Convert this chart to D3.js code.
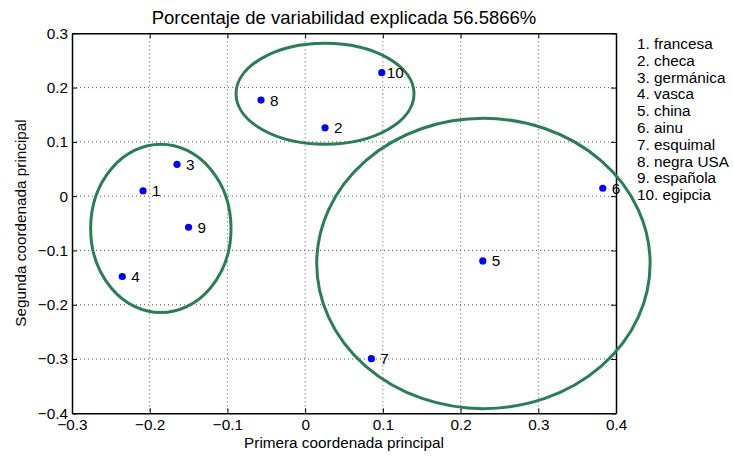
<!DOCTYPE html>
<html><head><meta charset="utf-8">
<script src="https://cdn.jsdelivr.net/npm/d3@7"></script>
<style>
body{margin:0;background:#fff;}
text{font-family:"Liberation Sans",Arial,Helvetica,sans-serif;fill:#000;}
</style></head>
<body>
<svg id="chart" width="733" height="456"></svg>
<script>
const labels = ["1","2","3","4","5","6","7","8","9","10"];
const xValues = [-0.2086, 0.0256, -0.1649, -0.2353, 0.2286, 0.3830, 0.0852, -0.0568, -0.1500, 0.0986];
const yValues = [0.0100, 0.1260, 0.0587, -0.1480, -0.1193, 0.0146, -0.2993, 0.1770, -0.0573, 0.2275];
const names = ["francesa","checa","germánica","vasca","china","ainu","esquimal","negra USA","española","egipcia"];
const ellCx = [-0.1857, 0.0256, 0.2294];
const ellCy = [-0.0595, 0.1886, -0.1240];
const ellRx = [0.0903, 0.1145, 0.2145];
const ellRy = [0.1550, 0.0930, 0.2674];
const xTicks = [-0.3,-0.2,-0.1,0,0.1,0.2,0.3,0.4];
const yTicks = [-0.4,-0.3,-0.2,-0.1,0,0.1,0.2,0.3];
const title = "Porcentaje de variabilidad explicada 56.5866%";
const xLabel = "Primera coordenada principal";
const yLabel = "Segunda coordenada principal";

const svg = d3.select("#chart");
const L=72, R=616, T=33.3, B=413.3;
const FS = 15.3;
const x = d3.scaleLinear().domain([-0.3,0.4]).range([L,R]);
const y = d3.scaleLinear().domain([-0.4,0.3]).range([B,T]);
const fmt = d => d===0 ? "0" : d3.format(".1f")(d).replace("-","\u2212");

// grid
const g = svg.append("g");
g.selectAll(".gx").data(xTicks.slice(1,-1)).join("line")
 .attr("x1",d=>x(d)).attr("x2",d=>x(d)).attr("y1",T).attr("y2",B)
 .attr("stroke","#555").attr("stroke-width",1).attr("stroke-dasharray","1,3");
g.selectAll(".gy").data(yTicks.slice(1,-1)).join("line")
 .attr("y1",d=>y(d)).attr("y2",d=>y(d)).attr("x1",L).attr("x2",R)
 .attr("stroke","#555").attr("stroke-width",1).attr("stroke-dasharray","1,3");

// axes
const ax = svg.append("g").attr("transform",`translate(0,${B})`)
 .call(d3.axisBottom(x).tickValues(xTicks).tickFormat(fmt).tickSizeInner(-5).tickSizeOuter(0).tickPadding(6));
const axT = svg.append("g").attr("transform",`translate(0,${T})`)
 .call(d3.axisTop(x).tickValues(xTicks).tickFormat("").tickSizeInner(-5).tickSizeOuter(0));
const ay = svg.append("g").attr("transform",`translate(${L},0)`)
 .call(d3.axisLeft(y).tickValues(yTicks).tickFormat(fmt).tickSizeInner(-5).tickSizeOuter(0).tickPadding(4));
const ayR = svg.append("g").attr("transform",`translate(${R},0)`)
 .call(d3.axisRight(y).tickValues(yTicks).tickFormat("").tickSizeInner(-5).tickSizeOuter(0));
[ax,axT,ay,ayR].forEach(a=>{
  a.select(".domain").attr("stroke","#000").attr("stroke-width",1.5);
  a.selectAll(".tick line").attr("stroke","#000");
  a.selectAll("text").attr("font-size",FS).attr("font-family","Liberation Sans, Arial, sans-serif").attr("fill","#000");
});

// ellipses
svg.selectAll(".ell").data(ellCx).join("ellipse")
 .attr("cx",(d,i)=>x(ellCx[i])).attr("cy",(d,i)=>y(ellCy[i]))
 .attr("rx",(d,i)=>x(ellRx[i])-x(0)).attr("ry",(d,i)=>y(0)-y(ellRy[i]))
 .attr("fill","none").attr("stroke","#2a7d55").attr("stroke-width",3);

// points
svg.selectAll(".pt").data(labels).join("circle")
 .attr("cx",(d,i)=>x(xValues[i])).attr("cy",(d,i)=>y(yValues[i])).attr("r",3.6).attr("fill","#0000ff");
svg.selectAll(".pl").data(labels).join("text")
 .attr("x",(d,i)=>x(xValues[i]) + 9 - (d.length-1)*4).attr("y",(d,i)=>y(yValues[i]))
 .attr("dy","0.36em").attr("font-size",FS).text(d=>d);

// legend
svg.selectAll(".lg").data(names).join("text")
 .attr("x",637).attr("y",(d,i)=>43.5+i*16.8).attr("dy","0.36em").attr("font-size",FS)
 .text((d,i)=>labels[i]+". "+d);

// titles
svg.append("text").attr("x",344).attr("y",17).attr("dy","0.36em").attr("text-anchor","middle").attr("font-size",18.5).text(title);
svg.append("text").attr("x",344).attr("y",442).attr("dy","0.36em").attr("text-anchor","middle").attr("font-size",FS).text(xLabel);
svg.append("text").attr("transform","translate(20,223) rotate(-90)").attr("dy","0.36em").attr("text-anchor","middle").attr("font-size",FS).text(yLabel);
</script>
</body></html>
